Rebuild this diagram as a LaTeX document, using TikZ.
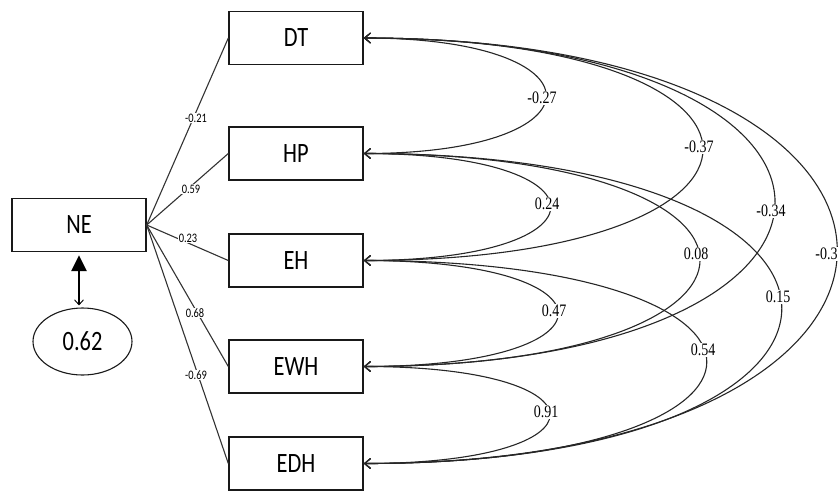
\documentclass[tikz,border=0pt]{standalone}
\usepackage{fontspec}
\newfontfamily\boxfont[FakeStretch=0.8]{Carlito}
\newfontfamily\numfont[FakeStretch=0.8]{Liberation Serif}
\usetikzlibrary{arrows.meta,shapes.geometric}
\begin{document}
\begin{tikzpicture}[x=1pt,y=-1pt,
  var/.style={draw=black!90, line width=1.4pt, minimum width=134pt, minimum height=53pt, inner sep=0pt, font=\boxfont\fontsize{28}{30}\selectfont},
  errv/.style={ellipse, draw=black!90, line width=1.1pt, minimum width=99pt, minimum height=67pt, inner sep=0pt, font=\boxfont\fontsize{28}{30}\selectfont},
  pathline/.style={draw=black!80, line width=1.1pt},
  plab/.style={fill=white, inner sep=1pt, font=\boxfont\fontsize{13}{14}\selectfont},
  cov/.style={draw=black!85, line width=1.1pt, {Straight Barb[length=6pt,width=10pt]}-{Straight Barb[length=6pt,width=10pt]}},
  clab/.style={fill=white, inner sep=1pt, font=\numfont\fontsize{17.5}{19}\selectfont}
]
\useasboundingbox (0,0) rectangle (838,491);

% observed variables
\node[var] (DT)  at (296,38)    {DT};
\node[var] (HP)  at (296,153.5) {HP};
\node[var] (EH)  at (296,260.5) {EH};
\node[var] (EWH) at (296,366.5) {EWH};
\node[var] (EDH) at (296,463.5) {EDH};
\node[var] (NE)  at (79,225)    {NE};
\node[errv] (err) at (82.5,341.5) {0.62};

% paths from NE
\draw[pathline] (NE.east) -- (DT.west);
\draw[pathline] (NE.east) -- (HP.west);
\draw[pathline] (NE.east) -- (EH.west);
\draw[pathline] (NE.east) -- (EWH.west);
\draw[pathline] (NE.east) -- (EDH.west);
\node[plab] (l1) at (196,118) {-0.21};
\node[plab] (l2) at (191,189) {0.59};
\node[plab] (l3) at (188,238) {0.23};
\node[plab] (l4) at (195,313) {0.68};
\node[plab] (l5) at (196,375) {-0.69};

% NE - error
\draw[line width=2.6pt, {Triangle[length=16pt,width=15pt]}-{Straight Barb[length=5pt,width=9pt,line width=0.9pt]}, shorten <=3pt, shorten >=2pt]
  (NE.south) -- (NE.south |- err.north);

% covariances
\draw[cov] (DT.east)  .. controls +(243,0) and +(243,0) .. (HP.east);
\draw[cov] (HP.east)  .. controls +(249,0) and +(249,0) .. (EH.east);
\draw[cov] (EH.east)  .. controls +(259,0) and +(259,0) .. (EWH.east);
\draw[cov] (EWH.east) .. controls +(248,0) and +(248,0) .. (EDH.east);
\draw[cov] (DT.east)  .. controls +(452,0) and +(452,0) .. (EH.east);
\draw[cov] (HP.east)  .. controls +(448,0) and +(448,0) .. (EWH.east);
\draw[cov] (EH.east)  .. controls +(457,0) and +(457,0) .. (EDH.east);
\draw[cov] (DT.east)  .. controls +(548,0) and +(548,0) .. (EWH.east);
\draw[cov] (HP.east)  .. controls +(557,0) and +(557,0) .. (EDH.east);
\draw[cov] (DT.east)  .. controls +(631,0) and +(631,0) .. (EDH.east);

\node[clab] (c1)  at (542,98)  {-0.27};
\node[clab] (c2)  at (547,204) {0.24};
\node[clab] (c3)  at (554,311) {0.47};
\node[clab] (c4)  at (546,412) {0.91};
\node[clab] (c5)  at (699,147) {-0.37};
\node[clab] (c6)  at (696,254) {0.08};
\node[clab] (c7)  at (703,350) {0.54};
\node[clab] (c8)  at (771,211) {-0.34};
\node[clab] (c9)  at (778,297) {0.15};
\node[clab] (c10) at (830,254) {-0.37};
\end{tikzpicture}
\end{document}
